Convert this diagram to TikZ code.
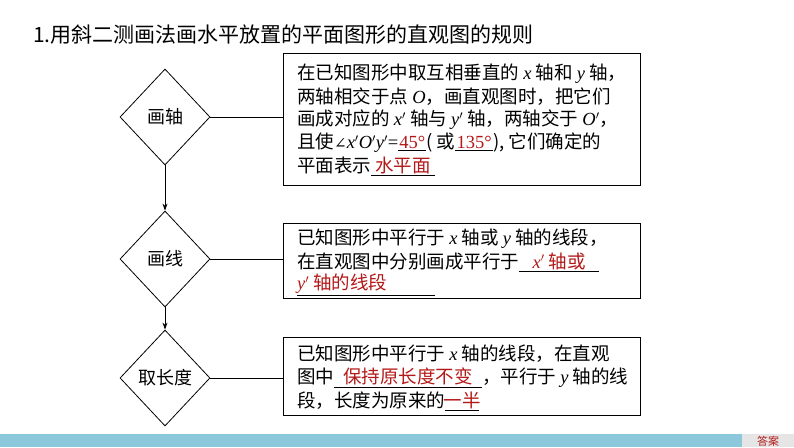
\documentclass[tikz,border=0pt]{standalone}
\usepackage{fontspec}
\setmainfont{Liberation Serif}
\newfontfamily\cjk{Noto Sans CJK SC}
\newfontfamily\djv{DejaVu Serif}
\usetikzlibrary{shapes.geometric,arrows.meta}
\definecolor{ans}{RGB}{180,25,25}
\definecolor{barblue}{RGB}{140,200,220}
\newcommand{\bl}[2]{\underline{\makebox[#1pt][c]{\color{ans}#2}}}
\begin{document}
\begin{tikzpicture}[x=1pt,y=-1pt,
  dia/.style={draw,thick,diamond,minimum width=90pt,minimum height=96pt,inner sep=0pt,font=\cjk\fontsize{18}{18}\selectfont},
  box/.style={draw,thick,anchor=north west},
  ln/.style={anchor=west,inner sep=0pt,font=\cjk\fontsize{18.5}{18.5}\selectfont},
  conn/.style={thick,-{Stealth[length=7pt,width=5pt]}}]
\useasboundingbox (0,0) rectangle (794,447);
\fill[white] (0,0) rectangle (794,447);
\node[anchor=west,inner sep=0pt,font=\cjk\fontsize{21}{21}\selectfont] (title) at (33,35) {1.用斜二测画法画水平放置的平面图形的直观图的规则};
\node[dia] (d1) at (165,117) {画轴};
\node[dia] (d2) at (165,259) {画线};
\node[dia] (d3) at (165,378) {取长度};
\draw[conn] (d1.south) -- (d2.north);
\draw[conn] (d2.south) -- (d3.north);
\node[box,minimum width=357pt,minimum height=132pt] (b1) at (283,53) {};
\node[box,minimum width=357pt,minimum height=75pt] (b2) at (283,223) {};
\node[box,minimum width=357pt,minimum height=78pt] (b3) at (283,337) {};
\draw[thick] (d1.east) -- (d1.east -| b1.west);
\draw[thick] (d2.east) -- (d2.east -| b2.west);
\draw[thick] (d3.east) -- (d3.east -| b3.west);
\node[ln] (l11) at (297,74) {在已知图形中取互相垂直的 {\rmfamily\itshape x} 轴和 {\rmfamily\itshape y} 轴，};
\node[ln] (l12) at (297,97) {两轴相交于点 {\rmfamily\itshape O}，画直观图时，把它们};
\node[ln] (l13) at (297,120) {画成对应的 {\rmfamily\itshape x}$'$ 轴与 {\rmfamily\itshape y}$'$ 轴，两轴交于 {\rmfamily\itshape O}$'$，};
\node[ln] (l14) at (297,143) {且使{\djv\fontsize{15}{15}\selectfont ∠}{\rmfamily\itshape x$'$O$'$y$'$}{\rmfamily =\bl{28}{45°}}( 或{\rmfamily\bl{38}{135°}}), 它们确定的};
\node[ln] (l15) at (297,166) {平面表示\bl{64}{水平面}};
\node[ln] (l21) at (297,239) {已知图形中平行于 {\rmfamily\itshape x} 轴或 {\rmfamily\itshape y} 轴的线段，};
\node[ln] (l22) at (297,262) {在直观图中分别画成平行于\bl{80}{{\rmfamily\itshape x}$'$ 轴或}};
\node[ln] (l23) at (297,285) {\bl{138}{{\rmfamily\itshape y}$'$ 轴的线段\hfill}};
\node[ln] (l31) at (297,354) {已知图形中平行于 {\rmfamily\itshape x} 轴的线段，在直观};
\node[ln] (l32) at (297,378) {图中\bl{148}{保持原长度不变}，平行于 {\rmfamily\itshape y} 轴的线};
\node[ln] (l33) at (297,401) {段，长度为原来的\bl{34}{一半}};
\fill[barblue] (0,434) rectangle (742,447);
\fill[gray!20] (742,434) rectangle (794,447);
\node[font=\cjk\fontsize{11}{11}\selectfont,text=ans,inner sep=0pt] (ansbtn) at (768,441) {答案};
\end{tikzpicture}
\end{document}
